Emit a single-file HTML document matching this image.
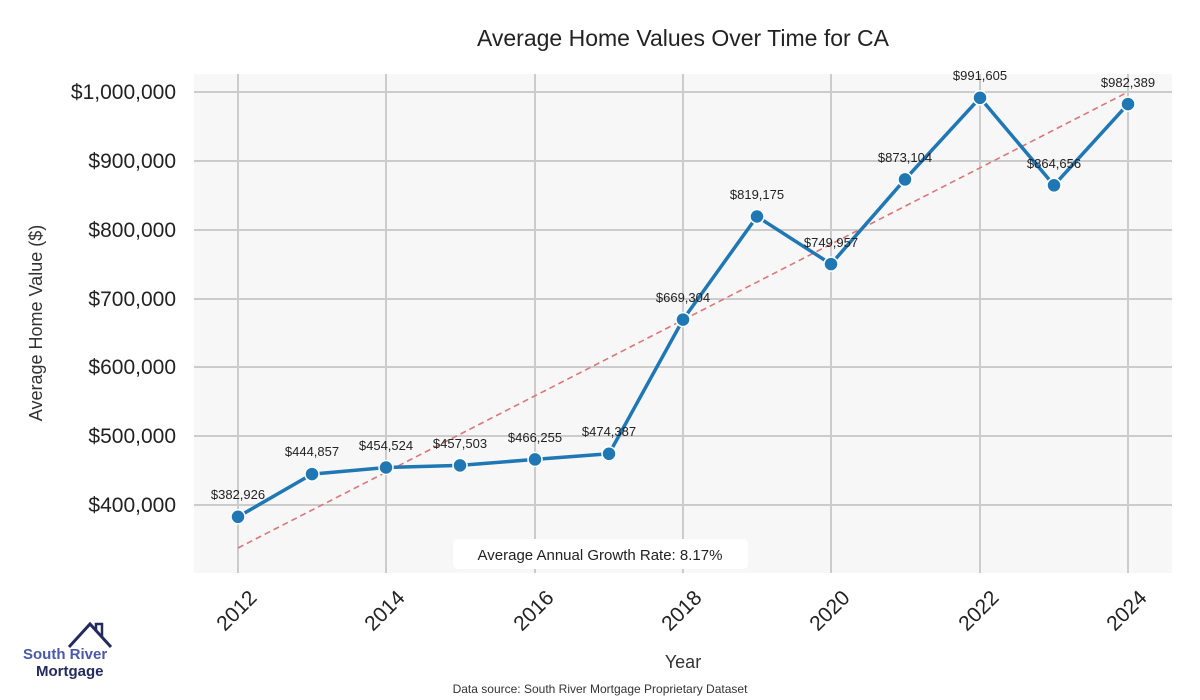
<!DOCTYPE html>
<html><head><meta charset="utf-8"><style>body{margin:0;background:#fff}svg{display:block}</style></head><body>
<svg width="1200" height="700" viewBox="0 0 1200 700" xmlns="http://www.w3.org/2000/svg" font-family="Liberation Sans, sans-serif">
<rect x="194" y="74" width="978" height="499" fill="#f7f7f7"/>
<g stroke="#cccccc" stroke-width="2">
<line x1="194" x2="1172" y1="92" y2="92"/><line x1="194" x2="1172" y1="161" y2="161"/><line x1="194" x2="1172" y1="230" y2="230"/><line x1="194" x2="1172" y1="299" y2="299"/><line x1="194" x2="1172" y1="367" y2="367"/><line x1="194" x2="1172" y1="436" y2="436"/><line x1="194" x2="1172" y1="505" y2="505"/>
<line x1="238" x2="238" y1="74" y2="573"/><line x1="386" x2="386" y1="74" y2="573"/><line x1="535" x2="535" y1="74" y2="573"/><line x1="683" x2="683" y1="74" y2="573"/><line x1="831" x2="831" y1="74" y2="573"/><line x1="980" x2="980" y1="74" y2="573"/><line x1="1128" x2="1128" y1="74" y2="573"/>
</g>
<line x1="238" y1="548" x2="1128" y2="92" stroke="#d9777a" stroke-width="1.6" stroke-dasharray="6,4"/>
<polyline fill="none" stroke="#1f77b4" stroke-width="3.5" stroke-linejoin="round" points="238,516.8 312,474.1 386,467.5 460,465.4 535,459.4 609,453.8 683,319.6 757,216.5 831,264.1 905,179.4 980,97.8 1054,185.3 1128,104.1"/>
<g fill="#1f77b4" stroke="#fff" stroke-width="1.5">
<circle cx="238" cy="516.8" r="7"/><circle cx="312" cy="474.1" r="7"/><circle cx="386" cy="467.5" r="7"/><circle cx="460" cy="465.4" r="7"/><circle cx="535" cy="459.4" r="7"/><circle cx="609" cy="453.8" r="7"/><circle cx="683" cy="319.6" r="7"/><circle cx="757" cy="216.5" r="7"/><circle cx="831" cy="264.1" r="7"/><circle cx="905" cy="179.4" r="7"/><circle cx="980" cy="97.8" r="7"/><circle cx="1054" cy="185.3" r="7"/><circle cx="1128" cy="104.1" r="7"/>
</g>
<g font-size="13" fill="#222" text-anchor="middle">
<text x="238" y="499">$382,926</text><text x="312" y="456">$444,857</text><text x="386" y="450">$454,524</text><text x="460" y="448">$457,503</text><text x="535" y="442">$466,255</text><text x="609" y="436">$474,387</text><text x="683" y="302">$669,304</text><text x="757" y="199">$819,175</text><text x="831" y="247">$749,957</text><text x="905" y="162">$873,104</text><text x="980" y="80">$991,605</text><text x="1054" y="168">$864,656</text><text x="1128" y="87">$982,389</text>
</g>
<rect x="453" y="539" width="295" height="30" rx="5" fill="#fff"/>
<text x="600" y="560" font-size="15" fill="#222" text-anchor="middle">Average Annual Growth Rate: 8.17%</text>
<g font-size="21" fill="#222" text-anchor="end">
<text x="176" y="99">$1,000,000</text><text x="176" y="168">$900,000</text><text x="176" y="237">$800,000</text><text x="176" y="306">$700,000</text><text x="176" y="374">$600,000</text><text x="176" y="443">$500,000</text><text x="176" y="512">$400,000</text>
</g>
<g font-size="21" fill="#222" text-anchor="end">
<text transform="translate(258,599) rotate(-45)">2012</text><text transform="translate(406,599) rotate(-45)">2014</text><text transform="translate(555,599) rotate(-45)">2016</text><text transform="translate(703,599) rotate(-45)">2018</text><text transform="translate(851,599) rotate(-45)">2020</text><text transform="translate(1000,599) rotate(-45)">2022</text><text transform="translate(1148,599) rotate(-45)">2024</text>
</g>
<text x="683" y="668" font-size="18" fill="#333" text-anchor="middle">Year</text>
<text transform="translate(42,323) rotate(-90)" font-size="18" fill="#333" text-anchor="middle">Average Home Value ($)</text>
<text x="683" y="46" font-size="23" fill="#222" text-anchor="middle">Average Home Values Over Time for CA</text>
<text x="600" y="693" font-size="12" fill="#333" text-anchor="middle">Data source: South River Mortgage Proprietary Dataset</text>
<polyline points="69,647 90,624 111,647" fill="none" stroke="#232a5e" stroke-width="3"/>
<polyline points="96,630 96,624 102,624 102,638" fill="none" stroke="#232a5e" stroke-width="2.5"/>
<text x="23" y="659" font-size="15" font-weight="bold" fill="#4a5aa8">South River</text>
<text x="36" y="676" font-size="15" font-weight="bold" fill="#232a5e">Mortgage</text>
</svg>
</body></html>
